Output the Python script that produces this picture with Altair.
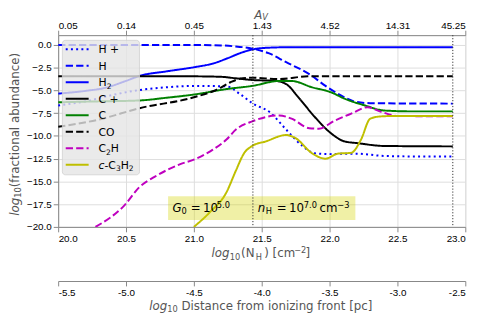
import altair as alt
import pandas as pd

# ---------------- data ----------------
SPECIES = ["H +", "H", "H2", "C +", "C", "CO", "C2H", "c-C3H2"]
COLORS = ["#0000FF", "#0000FF", "#0000FF", "#000000", "#008000", "#000000", "#BF00BF", "#BFBF00"]

HP_X = [20.0, 20.2, 20.4, 20.6, 20.8, 21.0, 21.24, 21.34, 21.43, 21.56, 21.68, 21.8, 21.89, 22.0, 22.1, 22.2, 22.4, 22.6, 22.908]
HP_Y = [-6.65, -6.2, -5.5, -4.95, -4.65, -4.5, -4.55, -5.4, -6.4, -7.4, -9.3, -11.1, -11.9, -12.0, -11.95, -11.95, -12.2, -12.25, -12.25]

H_X = [20.0, 21.0, 21.2, 21.3, 21.43, 21.55, 21.68, 21.85, 21.97, 22.09, 22.18, 22.3, 22.908]
H_Y = [0.0, 0.0, -0.05, -0.15, -0.4, -0.9, -1.9, -3.2, -4.5, -5.6, -6.2, -6.4, -6.45]

H2_X = [20.0, 20.2, 20.35, 20.5, 20.6, 20.8, 21.0, 21.15, 21.25, 21.35, 21.43, 21.55, 21.7, 22.908]
H2_Y = [-5.35, -5.05, -4.7, -3.95, -3.4, -2.9, -2.45, -2.0, -1.45, -0.85, -0.5, -0.3, -0.25, -0.25]

CP_X = [20.0, 21.0, 21.2, 21.3, 21.43, 21.6, 21.68, 21.77, 21.89, 22.01, 22.11, 22.21, 22.4, 22.908]
CP_Y = [-3.45, -3.45, -3.5, -3.65, -3.85, -3.95, -4.3, -5.75, -7.9, -9.7, -10.6, -10.8, -11.1, -11.15]

C_X = [20.0, 20.3, 20.6, 20.8, 21.0, 21.24, 21.43, 21.63, 21.72, 21.87, 22.01, 22.11, 22.26, 22.4, 22.6, 22.908]
C_Y = [-6.3, -6.2, -6.1, -5.8, -5.45, -4.85, -4.5, -3.96, -3.96, -4.65, -5.2, -5.9, -6.65, -7.2, -7.3, -7.3]

CO_X = [20.0, 20.3, 20.6, 21.0, 21.17, 21.27, 21.36, 21.43, 21.63, 21.84, 22.908]
CO_Y = [-9.0, -8.2, -6.95, -5.75, -4.9, -4.1, -3.65, -3.6, -3.75, -3.45, -3.45]

C2H_X = [20.275, 20.49, 20.6, 20.71, 20.9, 21.0, 21.14, 21.24, 21.31, 21.43, 21.63, 21.72, 21.85, 21.92, 22.04, 22.16, 22.28, 22.38, 22.5, 22.908]
C2H_Y = [-20.0, -17.6, -15.6, -14.5, -13.1, -12.6, -11.5, -10.4, -9.3, -8.4, -7.75, -8.1, -9.15, -9.2, -8.3, -7.55, -6.85, -7.35, -7.8, -7.85]

CC3H2_X = [21.0, 21.12, 21.24, 21.31, 21.37, 21.43, 21.53, 21.68, 21.75, 21.87, 21.97, 22.06, 22.16, 22.23, 22.3, 22.38, 22.5, 22.908]
CC3H2_Y = [-20.0, -18.35, -16.2, -13.8, -11.9, -11.1, -10.6, -9.9, -10.25, -11.9, -12.5, -11.95, -11.85, -10.45, -8.1, -7.85, -7.8, -7.8]

X_DOMAIN = [20.0, 23.0]
Y_DOMAIN = [-20.0, 1.08]
X_TICKS = [20.0, 20.5, 21.0, 21.5, 22.0, 22.5, 23.0]
Y_TICKS = [0.0, -2.5, -5.0, -7.5, -10.0, -12.5, -15.0, -17.5, -20.0]
AV_LABELS = ["0.05", "0.14", "0.45", "1.43", "4.52", "14.31", "45.25"]
DIST_TICKS = [-5.5, -5.0, -4.5, -4.0, -3.5, -3.0, -2.5]
MARKER_X = [21.435, 22.908]

# annotation box (data coordinates)
BOX_X = [20.81, 22.19]
BOX_Y = [-16.62, -19.25]
ANN_Y = -18.35

# ---------------- styles ----------------
DOT = [2, 3.3]
DASH = [7.4, 3.2]
SOLID = [1, 0]
DASHES = [DOT, DASH, SOLID, SOLID, SOLID, DASH, DASH, SOLID]
FONT = "DejaVu Sans"
GRAY = "#555555"

series = [HP_X, H_X, H2_X, CP_X, C_X, CO_X, C2H_X, CC3H2_X]
series_y = [HP_Y, H_Y, H2_Y, CP_Y, C_Y, CO_Y, C2H_Y, CC3H2_Y]
rows = []
for sp, xs, ys in zip(SPECIES, series, series_y):
    for xv, yv in zip(xs, ys):
        rows.append({"species": sp, "x": xv, "y": yv})
lines_df = pd.DataFrame(rows)

color_scale = alt.Scale(domain=SPECIES, range=COLORS)
dash_scale = alt.Scale(domain=SPECIES, range=DASHES)


def xs_main():
    return alt.Scale(domain=X_DOMAIN, nice=False, zero=False)


def ys_main():
    return alt.Scale(domain=Y_DOMAIN, nice=False, zero=False)


def x_axis():
    return alt.Axis(orient="bottom", values=X_TICKS, format=".1f", grid=True, title=None)


def y_axis():
    return alt.Axis(orient="left", values=Y_TICKS, format=".1f", grid=True, title=None)


lines = alt.Chart(lines_df).mark_line(
    strokeWidth=2, interpolate="monotone", clip=True, strokeCap="butt"
).encode(
    x=alt.X("x:Q", scale=xs_main(), axis=x_axis()),
    y=alt.Y("y:Q", scale=ys_main(), axis=y_axis()),
    color=alt.Color("species:N", scale=color_scale, legend=None),
    strokeDash=alt.StrokeDash("species:N", scale=dash_scale, legend=None),
    order=alt.Order("x:Q"),
)

box_df = pd.DataFrame({"x": [BOX_X[0]], "x2": [BOX_X[1]], "y": [BOX_Y[0]], "y2": [BOX_Y[1]]})
box = alt.Chart(box_df).mark_rect(fill="#D4D400", opacity=0.35).encode(
    x=alt.X("x:Q", scale=xs_main(), axis=x_axis()), x2="x2:Q",
    y=alt.Y("y:Q", scale=ys_main(), axis=y_axis()), y2="y2:Q",
)


def ann_layer(items, size, dy, italic=False):
    df = pd.DataFrame({"t": [i[0] for i in items], "x": [i[1] for i in items],
                       "y": [ANN_Y] * len(items)})
    return alt.Chart(df).mark_text(
        font=FONT, fontSize=size, align="left", baseline="alphabetic", dy=dy,
        fontStyle="italic" if italic else "normal", color="#000000"
    ).encode(
        x=alt.X("x:Q", scale=xs_main(), axis=x_axis()),
        y=alt.Y("y:Q", scale=ys_main(), axis=y_axis()),
        text="t:N",
    )


ann = [
    ann_layer([("G", 20.843), ("n", 21.471)], 12, 0, italic=True),
    ann_layer([("=", 20.977), ("10", 21.067), ("=", 21.611), ("10", 21.701), ("cm", 21.926)], 12, 0),
    ann_layer([("0", 20.908), ("H", 21.529)], 8.4, 2.5),
    ann_layer([("5.0", 21.169), ("7.0", 21.810), ("\u22123", 22.057)], 8.4, -3.5),
]

inner = alt.layer(lines, box, *ann)

av_expr = "[" + ",".join("'%s'" % s for s in AV_LABELS) + "][round((datum.value-20)*2)]"
markers = alt.Chart(pd.DataFrame({"mx": MARKER_X})).mark_rule(
    color="#333333", strokeWidth=1, strokeDash=[1.2, 1.8]
).encode(
    x=alt.X("mx:Q", scale=xs_main(),
            axis=alt.Axis(orient="top", values=X_TICKS, labelExpr=av_expr, grid=False,
                          title=None, labelPadding=0)),
)

dist = alt.Chart(pd.DataFrame({"d": DIST_TICKS})).mark_point(opacity=0).encode(
    x=alt.X("d:Q", scale=alt.Scale(domain=[DIST_TICKS[0], DIST_TICKS[-1]], nice=False, zero=False),
            axis=alt.Axis(orient="bottom", offset=55, values=DIST_TICKS,
                          labelExpr="replace(format(datum.value, '.1f'), '\u2212', '-')",
                          grid=False, domain=True, domainColor="#888888", domainWidth=1.2,
                          title=None)),
)

# ---------------- legend (layout in pixels) ----------------
LEG_ROW0, LEG_STEP = 14.3, 16.8
leg_bg = alt.Chart(pd.DataFrame({"a": [0]})).mark_rect(
    fill="#E5E5E5", fillOpacity=0.8, stroke="#D0D0D0", strokeWidth=0.8, cornerRadius=3
).encode(x=alt.value(4.3), x2=alt.value(82.7), y=alt.value(5.3), y2=alt.value(142))

leg_rows = pd.DataFrame({"species": SPECIES,
                         "ly": [LEG_ROW0 + LEG_STEP * i for i in range(len(SPECIES))]})
leg_lines = alt.Chart(leg_rows).mark_rule(strokeWidth=2, strokeCap="butt").encode(
    x=alt.value(7.7), x2=alt.value(31),
    y=alt.Y("ly:Q", scale=None, axis=None),
    color=alt.Color("species:N", scale=color_scale, legend=None),
    strokeDash=alt.StrokeDash("species:N", scale=dash_scale, legend=None),
)

LX = 41
pieces = []  # (text, x, y, size, italic, angle, color)


def row_base(i):
    return LEG_ROW0 + LEG_STEP * i + 4


for i, t in [(0, "H +"), (1, "H"), (3, "C +"), (4, "C"), (5, "CO")]:
    pieces.append((t, LX, row_base(i), 11, False, 0, "#000000"))
pieces += [
    ("H", LX, row_base(2), 11, False, 0, "#000000"),
    ("2", LX + 8.3, row_base(2) + 2.5, 7.7, False, 0, "#000000"),
    ("C", LX, row_base(6), 11, False, 0, "#000000"),
    ("2", LX + 7.7, row_base(6) + 2.5, 7.7, False, 0, "#000000"),
    ("H", LX + 12.6, row_base(6), 11, False, 0, "#000000"),
    ("c", LX, row_base(7), 11, True, 0, "#000000"),
    ("-C", LX + 6.05, row_base(7), 11, False, 0, "#000000"),
    ("3", LX + 17.7, row_base(7) + 2.5, 7.7, False, 0, "#000000"),
    ("H", LX + 22.6, row_base(7), 11, False, 0, "#000000"),
    ("2", LX + 30.9, row_base(7) + 2.5, 7.7, False, 0, "#000000"),
]

# axis titles
pieces += [
    ("log", -40, 183.7, 12, True, 270, GRAY),
    ("10", -37.5, 165.4, 8.4, False, 270, GRAY),
    ("(fractional abundance)", -40, 154.7, 12, False, 270, GRAY),
    ("log", 156, 226, 12, True, 0, GRAY),
    ("10", 174.5, 228.5, 8.4, False, 0, GRAY),
    ("(N", 186, 226, 12, False, 0, GRAY),
    ("H", 200.8, 228.5, 8.4, False, 0, GRAY),
    (") [cm", 209.5, 226, 12, False, 0, GRAY),
    ("\u22122", 240, 222, 8.4, False, 0, GRAY),
    ("]", 251.5, 226, 12, False, 0, GRAY),
    ("log", 92.7, 279.4, 12, True, 0, GRAY),
    ("10", 111, 281.9, 8.4, False, 0, GRAY),
    ("Distance from ionizing front [pc]", 125.3, 279.4, 12, False, 0, GRAY),
    ("A", 199.3, -16.3, 12, True, 0, GRAY),
    ("V", 207.5, -15.3, 8.4, True, 0, GRAY),
]

pdf = pd.DataFrame(pieces, columns=["t", "px", "py", "fs", "it", "ang", "col"])
text_layers = []
for (it, ang, col), g in pdf.groupby(["it", "ang", "col"]):
    text_layers.append(
        alt.Chart(g.drop(columns=["it", "ang", "col"])).mark_text(
            font=FONT, align="left", baseline="alphabetic", angle=int(ang),
            fontStyle="italic" if it else "normal", color=col
        ).encode(
            x=alt.X("px:Q", scale=None, axis=None),
            y=alt.Y("py:Q", scale=None, axis=None),
            text="t:N",
            size=alt.Size("fs:Q", scale=None, legend=None),
        )
    )

chart = alt.layer(
    inner, markers, dist, leg_bg, leg_lines, *text_layers
).resolve_scale(x="independent").properties(
    width=414, height=195,
    autosize=alt.AutoSizeParams(type="none"),
    padding={"left": 51, "top": 25, "right": 18, "bottom": 88},
).configure_view(
    fill="#E5E5E5", strokeWidth=0
).configure_axis(
    labelFont=FONT, labelFontSize=10, labelColor=GRAY, tickColor=GRAY,
    tickSize=3.5, tickWidth=1, domain=False, labelPadding=3.5,
    gridColor="#FFFFFF", gridWidth=1, gridOpacity=1
).configure(background="white")

chart.save("out.html", embed_options={"renderer": "svg", "actions": False})
